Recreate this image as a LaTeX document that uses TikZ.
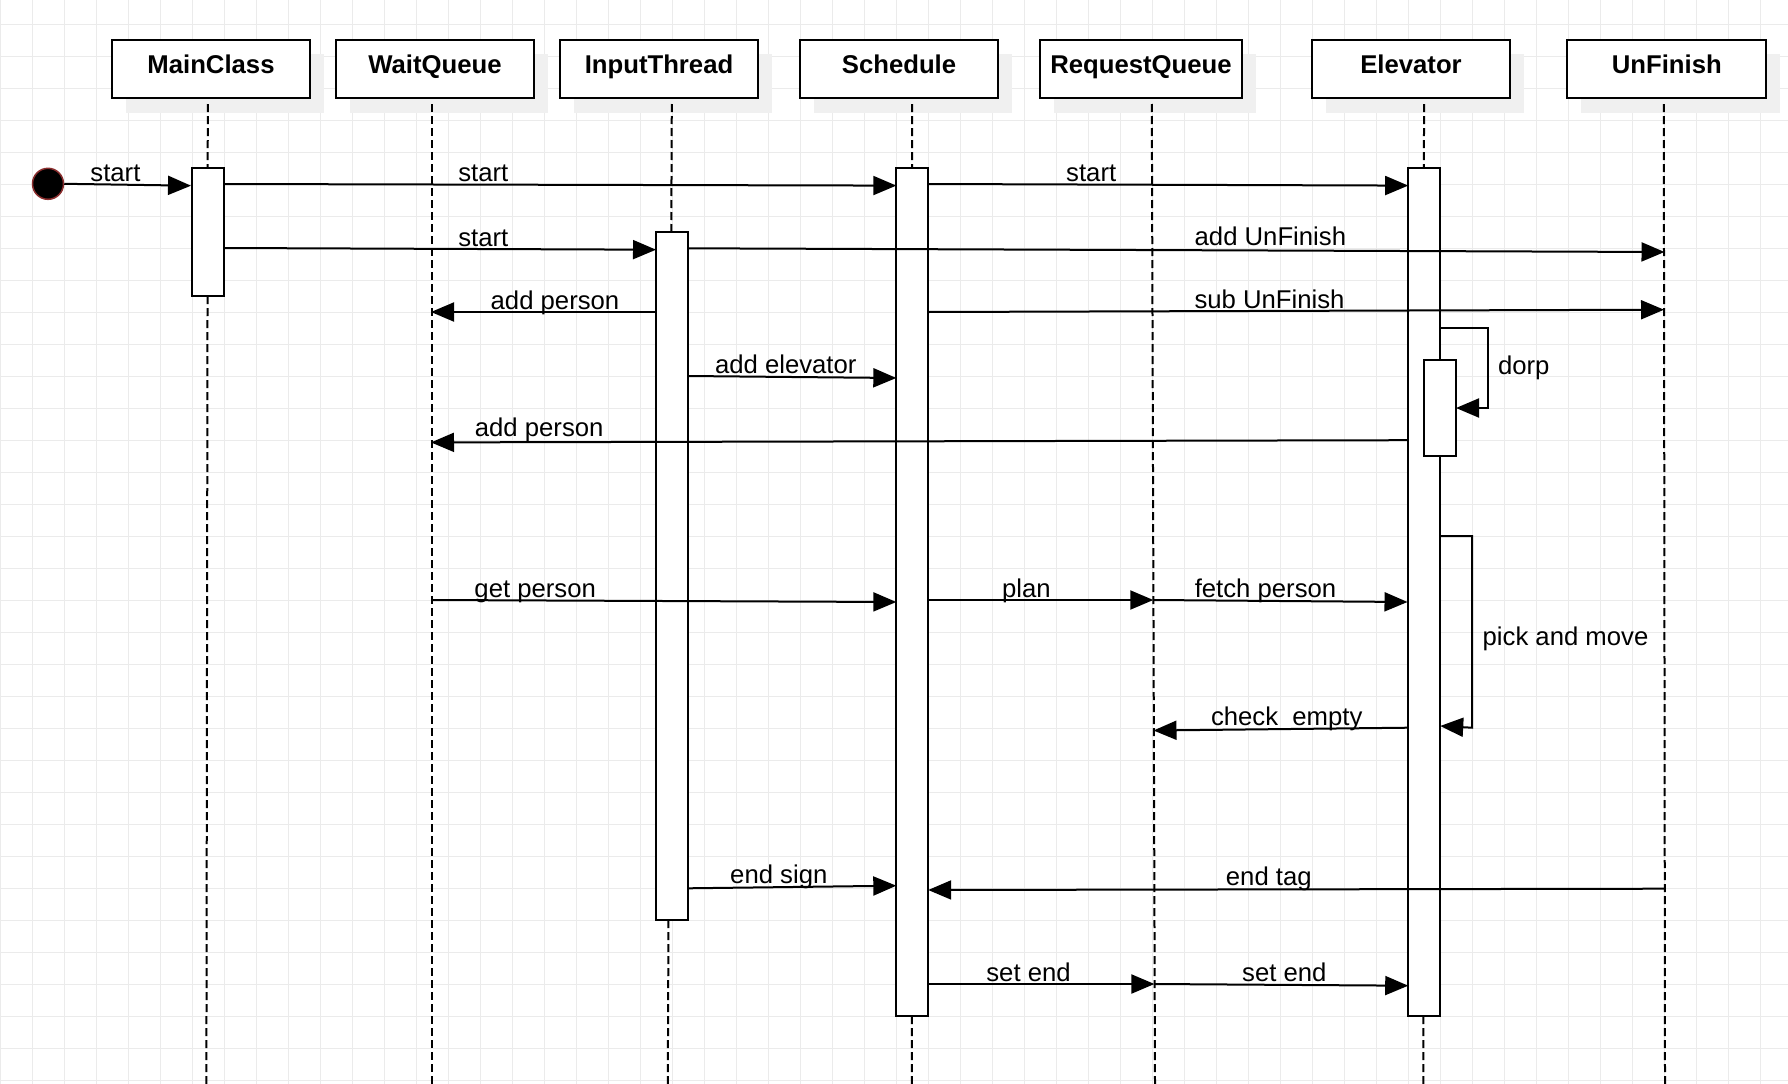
\documentclass[tikz,border=0pt]{standalone}
\usepackage{fontspec}
\setmainfont{Liberation Sans}
\usetikzlibrary{arrows.meta}
\definecolor{gridc}{HTML}{EBEBEB}
\definecolor{shadowc}{HTML}{F0F0F0}
\definecolor{initred}{HTML}{8A2E2E}
\begin{document}
\begin{tikzpicture}[x=1pt,y=-1pt,
  msg/.style={line width=2pt,-{Triangle[length=23pt,width=19pt]}},
  life/.style={line width=2pt,dash pattern=on 8pt off 4pt},
  hbox/.style={draw,line width=2pt,fill=white,minimum width=198.7pt,minimum height=58.6pt,inner sep=0pt},
  act/.style={draw,line width=2pt,fill=white,inner sep=0pt},
  hlbl/.style={font=\fontsize{25.7}{30}\selectfont\bfseries,anchor=base,inner sep=0pt},
  lbl/.style={font=\fontsize{25.7}{30}\selectfont,anchor=base,inner sep=0pt}]
\useasboundingbox (0,0) rectangle (1788,1084);
\fill[white] (0,0) rectangle (1788,1084);
% grid
\foreach \gx in {0,32,...,1788} \draw[gridc,line width=1pt] (\gx,0) -- (\gx,1084);
\foreach \gy in {24,56,...,1084} \draw[gridc,line width=1pt] (0,\gy) -- (1788,\gy);
% shadows
\foreach \cx/\w in {211/198.7,435/198.7,659/198.7,899/198.7,1141/202.5,1411/198.7,1666.8/198.7}
  \fill[shadowc] (\cx-\w/2+14,54) rectangle (\cx+\w/2+14,112.6);
% header boxes
\node[hbox] (hMain) at (211,69) {};
\node[hbox] (hWait) at (435,69) {};
\node[hbox] (hInput) at (659,69) {};
\node[hbox] (hSched) at (899,69) {};
\node[hbox,minimum width=202.5pt] (hReq) at (1141,69) {};
\node[hbox] (hElev) at (1411,69) {};
\node[hbox] (hUn) at (1666.8,69) {};
\node[hlbl] (tMain) at (211,73.3) {MainClass};
\node[hlbl] (tWait) at (435,73.3) {WaitQueue};
\node[hlbl] (tInput) at (659,73.3) {InputThread};
\node[hlbl] (tSched) at (899,73.3) {Schedule};
\node[hlbl] (tReq) at (1141,73.3) {RequestQueue};
\node[hlbl] (tElev) at (1411,73.3) {Elevator};
\node[hlbl] (tUn) at (1666.8,73.3) {UnFinish};
% lifelines
\coordinate (lMainT) at (207.8,104);  \coordinate (lMainB) at (206.4,1084);
\coordinate (lWaitT) at (432,104);    \coordinate (lWaitB) at (432,1084);
\coordinate (lInT) at (671.8,104);    \coordinate (lInB) at (667.8,1084);
\coordinate (lSchT) at (912.2,104);   \coordinate (lSchB) at (911.8,1084);
\coordinate (lReqT) at (1151.8,104);  \coordinate (lReqB) at (1155,1084);
\coordinate (lElT) at (1424,104);     \coordinate (lElB) at (1423.4,1084);
\coordinate (lUnT) at (1663.8,104);   \coordinate (lUnB) at (1665,1084);
\draw[life] (lMainT) -- (lMainB);
\draw[life] (lWaitT) -- (lWaitB);
\draw[life] (lInT) -- (lInB);
\draw[life] (lSchT) -- (lSchB);
\draw[life] (lReqT) -- (lReqB);
\draw[life] (lElT) -- (lElB);
\draw[life] (lUnT) -- (lUnB);
% activations
\node[act,minimum width=32.6pt,minimum height=128.6pt] (aMain) at (208,232) {};
\node[act,minimum width=32pt,minimum height=688.5pt] (aIn) at (672,575.95) {};
\node[act,minimum width=32pt,minimum height=848.2pt] (aSch) at (912.25,591.7) {};
\node[act,minimum width=32pt,minimum height=848.2pt] (aEl) at (1424.2,591.7) {};
\node[act,minimum width=32.3pt,minimum height=96pt] (aEl2) at (1439.85,407.7) {};
% initial state
\node[circle,fill=black,draw=initred,line width=1.5pt,minimum size=31pt,inner sep=0pt] (init) at (48,183.8) {};
% message end points
\coordinate (m1b) at (191,185.7);
\coordinate (m2a) at (224.3,184);   \coordinate (m2b) at (896.3,185.6);
\coordinate (m3a) at (928.2,184);   \coordinate (m3b) at (1408.2,185.6);
\coordinate (m4a) at (224.3,248);   \coordinate (m4b) at (656,249.7);
\coordinate (m5a) at (688,248.3);   \coordinate (m5b) at (1664.5,252);
\coordinate (m6a) at (656,312);     \coordinate (m6b) at (431,312);
\coordinate (m7a) at (928.2,312);   \coordinate (m7b) at (1664,309.7);
\coordinate (m8a) at (1440.2,328);  \coordinate (m8c) at (1488,328);
\coordinate (m8d) at (1488,408);    \coordinate (m8b) at (1456,408);
\coordinate (m9a) at (688,376);     \coordinate (m9b) at (896.3,378);
\coordinate (m10a) at (1408.2,440.2); \coordinate (m10b) at (431,442.4);
\coordinate (m11a) at (1440.2,536); \coordinate (m11c) at (1472,536);
\coordinate (m11d) at (1472,727.7); \coordinate (m11b) at (1440.2,726);
\coordinate (m12a) at (432,600);    \coordinate (m12b) at (896.3,602);
\coordinate (m13a) at (928.2,600);  \coordinate (m13b) at (1153.3,600);
\coordinate (m14b) at (1407.5,602);
\coordinate (m15a) at (1408.2,727.7); \coordinate (m15b) at (1153.5,730.5);
\coordinate (m16a) at (688,888.3);  \coordinate (m16b) at (896.3,885.7);
\coordinate (m17a) at (1664.5,888.7); \coordinate (m17b) at (928.2,890);
\coordinate (m18a) at (928.2,984);  \coordinate (m18b) at (1154.4,984);
\coordinate (m19b) at (1408.2,985.7);
% messages
\draw[msg] (init.east) -- (m1b);
\draw[msg] (m2a) -- (m2b);
\draw[msg] (m3a) -- (m3b);
\draw[msg] (m4a) -- (m4b);
\draw[msg] (m5a) -- (m5b);
\draw[msg] (m6a) -- (m6b);
\draw[msg] (m7a) -- (m7b);
\draw[msg] (m8a) -- (m8c) -- (m8d) -- (m8b);
\draw[msg] (m9a) -- (m9b);
\draw[msg] (m10a) -- (m10b);
\draw[msg] (m11a) -- (m11c) -- (m11d) -- (m11b);
\draw[msg] (m12a) -- (m12b);
\draw[msg] (m13a) -- (m13b);
\draw[msg] (m13b) -- (m14b);
\draw[msg] (m15a) -- (m15b);
\draw[msg] (m16a) -- (m16b);
\draw[msg] (m17a) -- (m17b);
\draw[msg] (m18a) -- (m18b);
\draw[msg] (m18b) -- (m19b);
% labels
\node[lbl] (L1) at (115.4,181.7) {start};
\node[lbl] (L2) at (483.3,181.7) {start};
\node[lbl] (L3) at (1091.2,181.7) {start};
\node[lbl] (L4) at (483.3,246) {start};
\node[lbl] (L5) at (1270.4,245.7) {add UnFinish};
\node[lbl] (L6) at (555,309.3) {add person};
\node[lbl] (L7) at (1269.5,308.3) {sub UnFinish};
\node[lbl] (L8) at (1523.8,374) {dorp};
\node[lbl] (L9) at (785.8,373.3) {add elevator};
\node[lbl] (L10) at (539.2,436.7) {add person};
\node[lbl] (L11) at (1565.5,645.7) {pick and move};
\node[lbl] (L12) at (535.2,597.7) {get person};
\node[lbl] (L13) at (1026.3,597.7) {plan};
\node[lbl] (L14) at (1265.5,597.7) {fetch person};
\node[lbl] (L15) at (1286.7,725.7) {check\ \ empty};
\node[lbl] (L16) at (778.8,883.5) {end sign};
\node[lbl] (L17) at (1268.8,885) {end tag};
\node[lbl] (L18) at (1028.5,981.7) {set end};
\node[lbl] (L19) at (1284.3,981.7) {set end};
\end{tikzpicture}
\end{document}
